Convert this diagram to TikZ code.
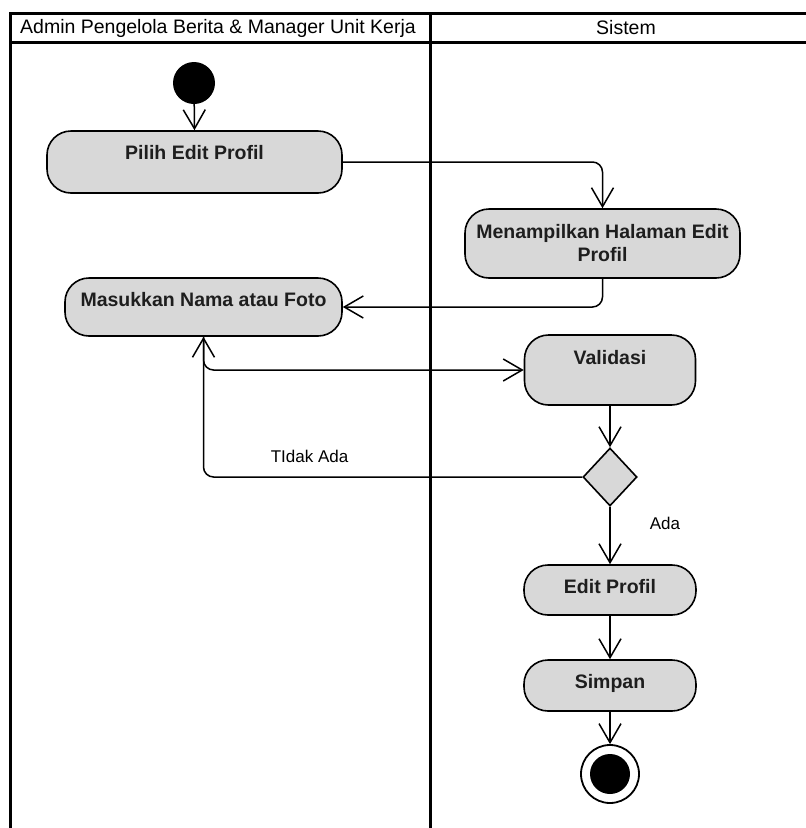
\documentclass[tikz,border=0pt]{standalone}
\usepackage{fontspec}
\setmainfont{Liberation Sans}
\usetikzlibrary{arrows.meta,shapes.geometric}
\definecolor{actfill}{RGB}{216,216,216}
\definecolor{acttext}{RGB}{30,30,30}
\begin{document}
\begin{tikzpicture}[x=1pt,y=-1pt,
  frame/.style={line width=3pt,draw=black},
  hdr/.style={font=\fontsize{19.5}{23}\selectfont,text=black,inner sep=0pt},
  act/.style={draw=black,fill=actfill,line width=1.6pt,rounded corners=24pt,inner sep=0pt},
  acttxt/.style={font=\fontsize{19.5}{23}\selectfont\bfseries,text=acttext,align=center},
  flow/.style={line width=1.5pt,draw=black,rounded corners=10pt,
    -{Straight Barb[length=19pt,width=22pt,line width=1.5pt]}},
  lbl/.style={font=\fontsize{17}{20}\selectfont,text=black,inner sep=0pt},
  startnode/.style={circle,fill=black,draw=none,minimum size=42pt,inner sep=0pt},
  decision/.style={diamond,draw=black,fill=actfill,line width=1.6pt,minimum width=54pt,minimum height=58pt,inner sep=0pt},
]
\useasboundingbox (0,0) rectangle (806,828);
\fill[white] (0,0) rectangle (806,828);

% swimlane frame
\draw[frame] (10,828) -- (10,13) -- (806,13);
\draw[frame] (10,42) -- (806,42);
\draw[frame] (430,13) -- (430,828);
\node[hdr,anchor=west] (laneA) at (20,28) {Admin Pengelola Berita \& Manager Unit Kerja};
\node[hdr] (laneB) at (626,28) {Sistem};

% activity nodes
\node[startnode] (start) at (194,83) {};
\node[act,minimum width=295pt,minimum height=62pt,
  label={[acttxt,yshift=9pt]center:Pilih Edit Profil}] (pilih) at (194.5,162) {};
\node[act,minimum width=275pt,minimum height=69pt,
  label={[acttxt]center:Menampilkan Halaman Edit\\Profil}] (tampil) at (602.5,243.5) {};
\node[act,minimum width=277pt,minimum height=58pt,
  label={[acttxt,yshift=7pt]center:Masukkan Nama atau Foto}] (masuk) at (203.5,307) {};
\node[act,minimum width=171pt,minimum height=70pt,
  label={[acttxt,yshift=12pt]center:Validasi}] (valid) at (610,370) {};
\node[decision] (cek) at (610,477) {};
\node[act,minimum width=172pt,minimum height=50pt,
  label={[acttxt,yshift=3pt]center:Edit Profil}] (edit) at (610,590) {};
\node[act,minimum width=172pt,minimum height=51pt,
  label={[acttxt,yshift=2pt]center:Simpan}] (simpan) at (610,685.5) {};
\node[circle,draw=black,fill=white,line width=1.8pt,minimum size=58pt,inner sep=0pt] (finish) at (610,774) {};
\node[circle,fill=black,minimum size=40pt,inner sep=0pt] (finishdot) at (finish.center) {};

% control flow
\draw[flow] (start) -- (pilih.north);
\draw[flow] (pilih.east) -| (tampil.north);
\draw[flow] (tampil.south) |- (masuk.east);
\draw[flow] (masuk.south) |- (valid.west);
\draw[flow] (valid.south) -- (cek.north);
\draw[flow] (cek.west) -| node[lbl,pos=0.36,yshift=21pt] {TIdak Ada} (masuk.south);
\draw[flow] (cek.south) -- node[lbl,pos=0.29,xshift=55pt] {Ada} (edit.north);
\draw[flow] (edit.south) -- (simpan.north);
\draw[flow] (simpan.south) -- (finish.north);
\end{tikzpicture}
\end{document}
